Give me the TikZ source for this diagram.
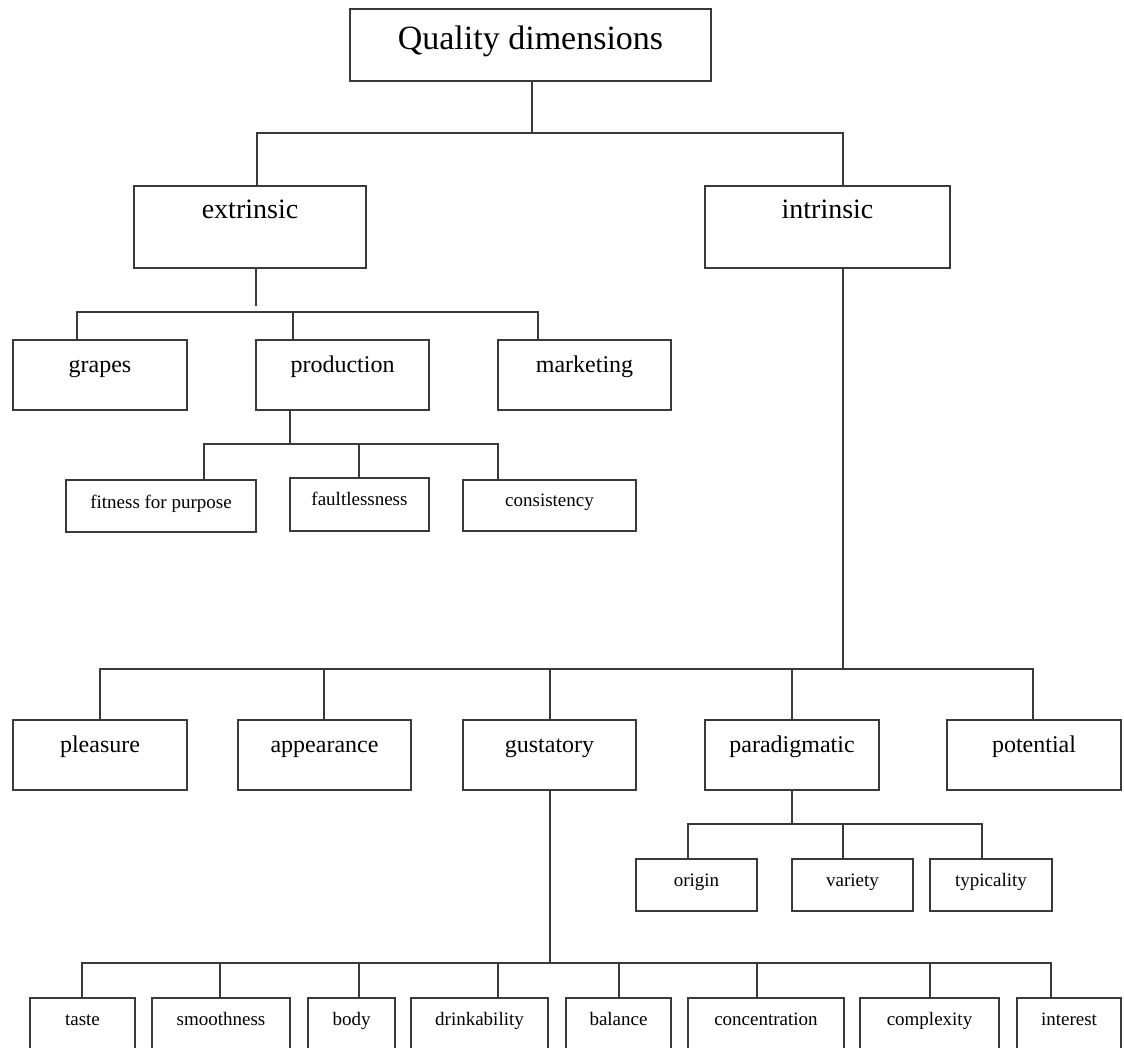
\documentclass[tikz,border=0pt]{standalone}
\usepackage{fontspec}
\setmainfont{Liberation Serif}
\begin{document}
\definecolor{lc}{HTML}{3A3A3A}
\begin{tikzpicture}[x=1pt,y=-1pt,
  box/.style={draw=lc, line width=2pt, inner sep=0pt, outer sep=0pt, anchor=north west, text=black},
  fA/.style={font=\fontsize{34}{40}\selectfont},
  fB/.style={font=\fontsize{28}{33}\selectfont},
  fC/.style={font=\fontsize{24}{28}\selectfont},
  fD/.style={font=\fontsize{19}{23}\selectfont},
  conn/.style={draw=lc, line width=2pt, line cap=rect}]
\useasboundingbox (0,0) rectangle (1124,1048);
\clip (0,0) rectangle (1124,1048);
% bar heights
\coordinate (y0) at (0,133);
\coordinate (y1) at (0,312);
\coordinate (y2) at (0,444);
\coordinate (y3) at (0,669);
\coordinate (y4) at (0,824);
\coordinate (y5) at (0,963);
% nodes
\node[box,fA,minimum width=361pt,text height=41pt,text depth=31pt] (top) at (350,9) {Quality dimensions};
\node[box,fB,minimum width=232pt,text height=33pt,text depth=49pt] (ext) at (134,186) {extrinsic};
\node[box,fB,minimum width=245pt,text height=33pt,text depth=49pt] (int) at (705,186) {intrinsic};
\node[box,fC,minimum width=174pt,text height=32pt,text depth=38pt] (grapes) at (13,340) {grapes};
\node[box,fC,minimum width=173pt,text height=32pt,text depth=38pt] (prod) at (256,340) {production};
\node[box,fC,minimum width=173pt,text height=32pt,text depth=38pt] (mark) at (498,340) {marketing};
\node[box,fD,minimum width=190pt,text height=28pt,text depth=24pt] (fit) at (66,480) {fitness for purpose};
\node[box,fD,minimum width=139pt,text height=27pt,text depth=26pt] (fault) at (290,478) {faultlessness};
\node[box,fD,minimum width=173pt,text height=26pt,text depth=25pt] (cons) at (463,480) {consistency};
\node[box,fC,minimum width=174pt,text height=32pt,text depth=38pt] (plea) at (13,720) {pleasure};
\node[box,fC,minimum width=173pt,text height=32pt,text depth=38pt] (appe) at (238,720) {appearance};
\node[box,fC,minimum width=173pt,text height=32pt,text depth=38pt] (gust) at (463,720) {gustatory};
\node[box,fC,minimum width=174pt,text height=32pt,text depth=38pt] (para) at (705,720) {paradigmatic};
\node[box,fC,minimum width=174pt,text height=32pt,text depth=38pt] (pote) at (947,720) {potential};
\node[box,fD,minimum width=121pt,text height=27pt,text depth=25pt] (orig) at (636,859) {origin};
\node[box,fD,minimum width=121pt,text height=27pt,text depth=25pt] (vari) at (792,859) {variety};
\node[box,fD,minimum width=122pt,text height=27pt,text depth=25pt] (typi) at (930,859) {typicality};
\node[box,fD,minimum width=105pt,text height=27pt,text depth=45pt] (taste) at (30,998) {taste};
\node[box,fD,minimum width=138pt,text height=27pt,text depth=45pt] (smoo) at (152,998) {smoothness};
\node[box,fD,minimum width=87pt,text height=27pt,text depth=45pt] (body) at (308,998) {body};
\node[box,fD,minimum width=137pt,text height=27pt,text depth=45pt] (drin) at (411,998) {drinkability};
\node[box,fD,minimum width=105pt,text height=27pt,text depth=45pt] (bala) at (566,998) {balance};
\node[box,fD,minimum width=156pt,text height=27pt,text depth=45pt] (conc) at (688,998) {concentration};
\node[box,fD,minimum width=139pt,text height=27pt,text depth=45pt] (comp) at (860,998) {complexity};
\node[box,fD,minimum width=104pt,text height=27pt,text depth=45pt] (inte) at (1017,998) {interest};
% attachment points
\coordinate (pT) at ([xshift=1.5pt]top.south);
\coordinate (cE) at ([xshift=7pt]ext.north);
\coordinate (cI) at ([xshift=15.5pt]int.north);
\coordinate (pE) at ([xshift=6pt]ext.south);
\coordinate (cG) at ([xshift=-23pt]grapes.north);
\coordinate (cP) at ([xshift=-49.5pt]prod.north);
\coordinate (cM) at ([xshift=-46.5pt]mark.north);
\coordinate (pP) at ([xshift=-52.5pt]prod.south);
\coordinate (cF) at ([xshift=43pt]fit.north);
\coordinate (cL) at ([xshift=-0.5pt]fault.north);
\coordinate (cC) at ([xshift=-51.5pt]cons.north);
\coordinate (pI) at ([xshift=15.5pt]int.south);
\coordinate (c1) at (plea.north);
\coordinate (c2) at ([xshift=-0.5pt]appe.north);
\coordinate (c3) at ([xshift=0.5pt]gust.north);
\coordinate (c4) at (para.north);
\coordinate (c5) at ([xshift=-1pt]pote.north);
\coordinate (pA) at (para.south);
\coordinate (d1) at ([xshift=-8.5pt]orig.north);
\coordinate (d2) at ([xshift=-9.5pt]vari.north);
\coordinate (d3) at ([xshift=-9pt]typi.north);
\coordinate (pG) at ([xshift=0.5pt]gust.south);
\coordinate (e1) at ([xshift=-0.5pt]taste.north);
\coordinate (e2) at ([xshift=-1pt]smoo.north);
\coordinate (e3) at ([xshift=7.5pt]body.north);
\coordinate (e4) at ([xshift=18.5pt]drin.north);
\coordinate (e5) at ([xshift=0.5pt]bala.north);
\coordinate (e6) at ([xshift=-9pt]conc.north);
\coordinate (e7) at ([xshift=0.5pt]comp.north);
\coordinate (e8) at ([xshift=-18pt]inte.north);
% connectors: root
\draw[conn] (pT) -- (pT |- y0);
\draw[conn] (cE |- y0) -- (cI |- y0);
\foreach \c in {cE,cI} \draw[conn] (\c |- y0) -- (\c);
% extrinsic
\draw[conn] (pE) -- ++(0,37);
\draw[conn] (cG |- y1) -- (cM |- y1);
\foreach \c in {cG,cP,cM} \draw[conn] (\c |- y1) -- (\c);
% production
\draw[conn] (pP) -- (pP |- y2);
\draw[conn] (cF |- y2) -- (cC |- y2);
\foreach \c in {cF,cL,cC} \draw[conn] (\c |- y2) -- (\c);
% intrinsic
\draw[conn] (pI) -- (pI |- y3);
\draw[conn] (c1 |- y3) -- (c5 |- y3);
\foreach \c in {c1,c2,c3,c4,c5} \draw[conn] (\c |- y3) -- (\c);
% paradigmatic
\draw[conn] (pA) -- (pA |- y4);
\draw[conn] (d1 |- y4) -- (d3 |- y4);
\foreach \c in {d1,d2,d3} \draw[conn] (\c |- y4) -- (\c);
% gustatory
\draw[conn] (pG) -- (pG |- y5);
\draw[conn] (e1 |- y5) -- (e8 |- y5);
\foreach \c in {e1,e2,e3,e4,e5,e6,e7,e8} \draw[conn] (\c |- y5) -- (\c);
\end{tikzpicture}
\end{document}
